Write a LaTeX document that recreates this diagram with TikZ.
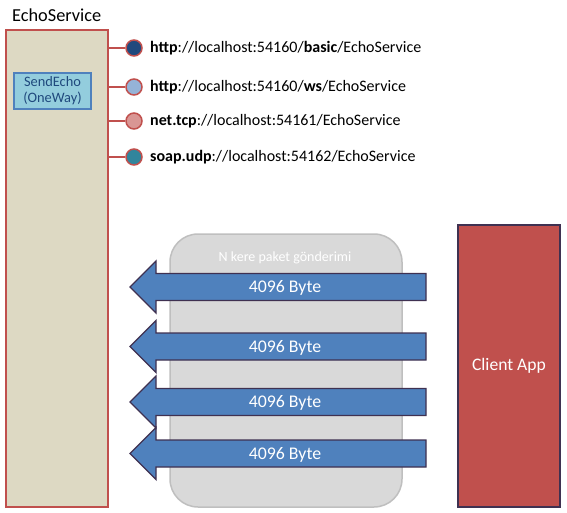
\documentclass[tikz,border=0pt]{standalone}
\usepackage{fontspec}
\setmainfont{Carlito}
\usetikzlibrary{shapes.arrows}
\definecolor{svcfill}{HTML}{DDD9C3}
\definecolor{svcred}{HTML}{C0504D}
\definecolor{opfill}{HTML}{93CDDD}
\definecolor{opdraw}{HTML}{4F81BD}
\definecolor{optext}{HTML}{1F497D}
\definecolor{cA}{HTML}{1F497D}
\definecolor{cB}{HTML}{95B3D7}
\definecolor{cC}{HTML}{D99694}
\definecolor{cD}{HTML}{31859C}
\definecolor{grayfill}{HTML}{D9D9D9}
\definecolor{graydraw}{HTML}{BFBFBF}
\definecolor{arrfill}{HTML}{4F81BD}
\definecolor{arrdraw}{HTML}{3F3151}
\tikzset{
  endpt/.style={circle,draw=svcred,line width=1.5pt,minimum size=16pt,inner sep=0pt},
  url/.style={anchor=west,inner sep=0pt,font=\fontsize{16}{18}\selectfont},
  pkt/.style={draw=arrdraw,fill=arrfill,line width=1.3pt},
  pkttext/.style={text=white,font=\fontsize{17.8}{20}\selectfont,inner sep=0pt},
}
\begin{document}
\begin{tikzpicture}[x=1pt,y=-1pt]
\useasboundingbox (0,0) rectangle (567,513);
% service
\node[anchor=west,inner sep=0pt,font=\fontsize{18.3}{20}\selectfont] (title) at (12,15) {EchoService};
\draw[fill=svcfill,draw=svcred,line width=2pt] (6,30) rectangle (108,507);
\coordinate (svcright) at (108,0);
\node[draw=opdraw,fill=opfill,line width=1.5pt,minimum width=77pt,minimum height=36pt,inner sep=0pt,align=center,text=optext,font=\fontsize{14.4}{16}\selectfont] (op) at (52.5,91) {SendEcho\\(OneWay)};
% endpoints
\foreach \n/\y/\c in {a/48/cA,b/87/cB,c/121/cC,d/157/cD}{
  \node[endpt,fill=\c] (\n) at (134,\y) {};
  \coordinate (\n s) at (108,\y);
  \draw[svcred,line width=2pt] (\n s) -- (\n);
}
\node[url] (ua) at (150,48) {\textbf{http}://localhost:54160/\textbf{basic}/EchoService};
\node[url] (ub) at (150,87) {\textbf{http}://localhost:54160/\textbf{ws}/EchoService};
\node[url] (uc) at (150,121) {\textbf{net.tcp}://localhost:54161/EchoService};
\node[url] (ud) at (150,157) {\textbf{soap.udp}://localhost:54162/EchoService};
% gray group
\draw[fill=grayfill,draw=graydraw,line width=1.5pt,rounded corners=28pt] (170,234) rectangle (402,507);
\node[text=white,font=\fontsize{14}{16}\selectfont,inner sep=0pt] (grp) at (285,258) {N kere paket gönderimi};
% arrows
\foreach \n/\y in {p1/287,p2/346.5,p3/402,p4/453.5}{
  \draw[pkt] (426,\y-13.5) -- (156,\y-13.5) -- (156,\y-26) -- (130,\y) -- (156,\y+26) -- (156,\y+13.5) -- (426,\y+13.5) -- cycle;
  \node[pkttext] (\n) at (285,\y+1) {4096 Byte};
}
% client
\node[draw=arrdraw,fill=svcred,line width=1.5pt,minimum width=102pt,minimum height=282pt,inner sep=0pt,text=white,font=\fontsize{17.6}{20}\selectfont] (client) at (509,366) {Client App};
\end{tikzpicture}
\end{document}
